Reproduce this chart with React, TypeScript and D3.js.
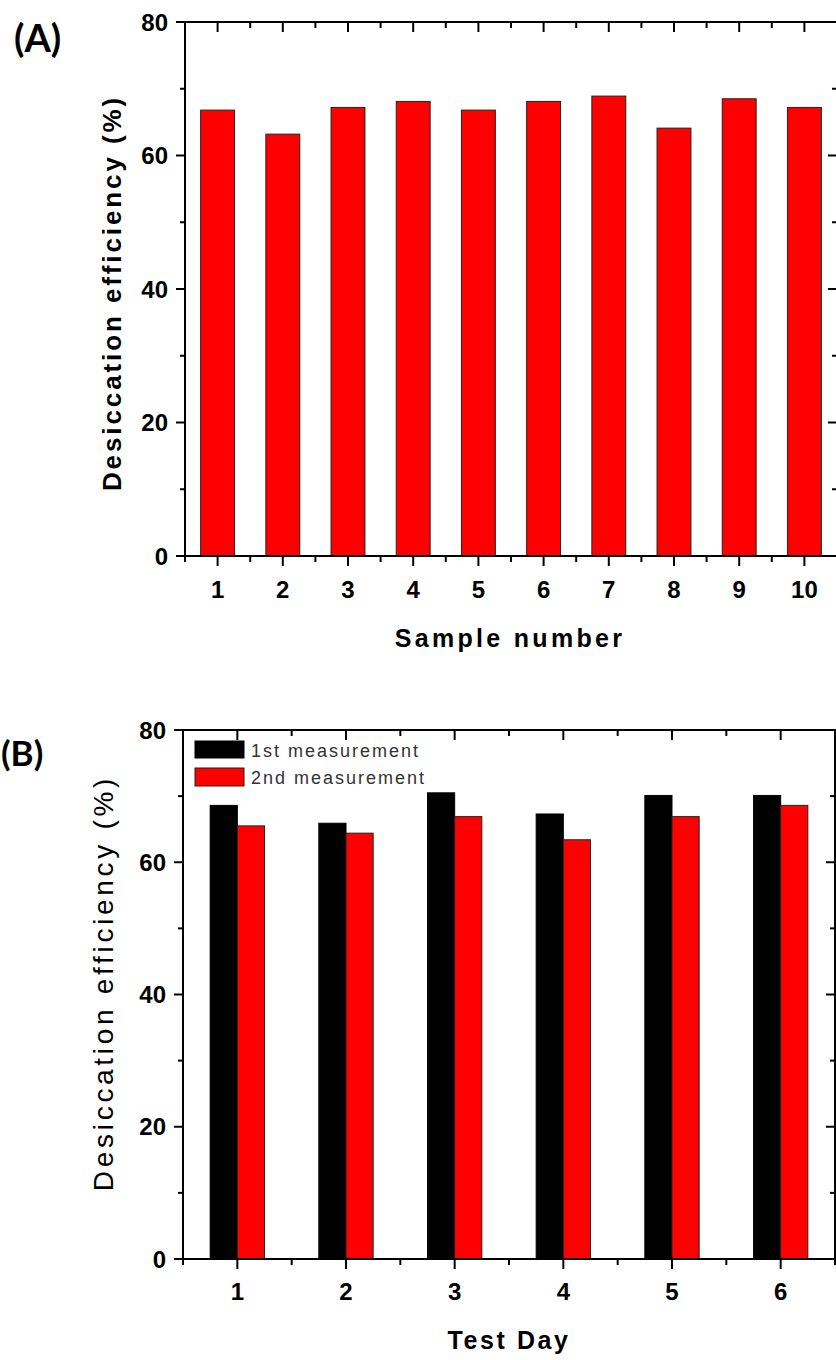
import React from "react";
import * as d3 from "d3";

// Panel A: desiccation efficiency per sample
const samples = [1, 2, 3, 4, 5, 6, 7, 8, 9, 10];
const sampleEfficiency = [66.8, 63.2, 67.2, 68.1, 66.8, 68.1, 68.9, 64.1, 68.5, 67.2];

// Panel B: two measurements per test day
const testDays = [1, 2, 3, 4, 5, 6];
const firstMeasurement = [68.6, 65.9, 70.5, 67.3, 70.1, 70.1];
const secondMeasurement = [65.5, 64.4, 66.9, 63.4, 66.9, 68.6];
const seriesNames = ["1st measurement", "2nd measurement"];

const yTicks = [0, 20, 40, 60, 80];
const yMinorTicks = [10, 30, 50, 70];

const W = 836;
const H = 1360;
const AXIS_FONT = "'Liberation Sans', Arial, sans-serif";
const LABEL_FONT = "Lato, 'Open Sans', sans-serif";
const RED = "#ff0000";

type FrameProps = {
  x: d3.ScaleLinear<number, number>;
  y: d3.ScaleLinear<number, number>;
  majorX: number[];
  minorX: number[];
};

function Frame({ x, y, majorX, minorX }: FrameProps) {
  const [x0, x1] = x.range();
  const [y0, y1] = y.range(); // y0 bottom, y1 top
  const major = 10;
  const minor = 6;
  const sw = 2;
  return (
    <g stroke="#000" strokeWidth={sw} fill="none">
      <rect x={x0} y={y1} width={x1 - x0} height={y0 - y1} />
      {majorX.map((v) => (
        <g key={"mx" + v}>
          <line x1={x(v)} x2={x(v)} y1={y0} y2={y0 + major} />
          <line x1={x(v)} x2={x(v)} y1={y1} y2={y1 + major} />
        </g>
      ))}
      {minorX.map((v) => (
        <g key={"nx" + v}>
          <line x1={x(v)} x2={x(v)} y1={y0} y2={y0 + minor} />
          <line x1={x(v)} x2={x(v)} y1={y1} y2={y1 + minor} />
        </g>
      ))}
      {yTicks.map((v) => (
        <g key={"my" + v}>
          <line x1={x0} x2={x0 - 9} y1={y(v)} y2={y(v)} />
          <line x1={x1} x2={x1 - 9} y1={y(v)} y2={y(v)} />
        </g>
      ))}
      {yMinorTicks.map((v) => (
        <g key={"ny" + v}>
          <line x1={x0} x2={x0 - 5} y1={y(v)} y2={y(v)} />
          <line x1={x1} x2={x1 - 5} y1={y(v)} y2={y(v)} />
        </g>
      ))}
    </g>
  );
}

function YLabels({ x, y }: { x: d3.ScaleLinear<number, number>; y: d3.ScaleLinear<number, number> }) {
  const x0 = x.range()[0];
  return (
    <g fontFamily={AXIS_FONT} fontWeight="bold" fontSize={24} textAnchor="end">
      {yTicks.map((v) => (
        <text key={v} x={x0 - 17} y={y(v)} dy="0.36em">
          {v}
        </text>
      ))}
    </g>
  );
}

function PanelA() {
  const x = d3.scaleLinear().domain([0.5, 10.5]).range([185, 837]);
  const y = d3.scaleLinear().domain([0, 80]).range([556, 22]);
  const step = x(2) - x(1);
  const bw = step * 0.52;
  const minorX = d3.range(0.5, 10.6, 1);
  return (
    <g>
      {samples.map((s, i) => (
        <rect
          key={s}
          x={x(s) - bw / 2}
          y={y(sampleEfficiency[i])}
          width={bw}
          height={y(0) - y(sampleEfficiency[i])}
          fill={RED}
          stroke="#222"
          strokeWidth={1}
        />
      ))}
      <Frame x={x} y={y} majorX={samples} minorX={minorX} />
      <YLabels x={x} y={y} />
      <g fontFamily={AXIS_FONT} fontWeight="bold" fontSize={24} textAnchor="middle">
        {samples.map((s) => (
          <text key={s} x={x(s)} y={598}>
            {s}
          </text>
        ))}
      </g>
      <text
        x={510}
        y={647}
        textAnchor="middle"
        fontFamily={AXIS_FONT}
        fontWeight="bold"
        fontSize={25}
        letterSpacing={3.3}
      >
        Sample number
      </text>
      <text
        transform={`translate(${121},${293}) rotate(-90)`}
        textAnchor="middle"
        fontFamily={AXIS_FONT}
        fontWeight="bold"
        fontSize={26}
        letterSpacing={2.9}
      >
        Desiccation efficiency (%)
      </text>
      <text x={14} y={52} fontFamily={LABEL_FONT} fontWeight="bold" fontSize={38}>
        (A)
      </text>
    </g>
  );
}

function PanelB() {
  const x = d3.scaleLinear().domain([0.5, 6.5]).range([183, 835]);
  const y = d3.scaleLinear().domain([0, 80]).range([1259, 730]);
  const step = x(2) - x(1);
  const bw = step * 0.25;
  const minorX = d3.range(0.5, 6.6, 1);
  return (
    <g>
      {testDays.map((d, i) => (
        <g key={d}>
          <rect
            x={x(d) - bw}
            y={y(firstMeasurement[i])}
            width={bw}
            height={y(0) - y(firstMeasurement[i])}
            fill="#000"
            stroke="#000"
            strokeWidth={1}
          />
          <rect
            x={x(d)}
            y={y(secondMeasurement[i])}
            width={bw}
            height={y(0) - y(secondMeasurement[i])}
            fill={RED}
            stroke="#222"
            strokeWidth={1}
          />
        </g>
      ))}
      <Frame x={x} y={y} majorX={testDays} minorX={minorX} />
      <YLabels x={x} y={y} />
      <g fontFamily={AXIS_FONT} fontWeight="bold" fontSize={24} textAnchor="middle">
        {testDays.map((d) => (
          <text key={d} x={x(d)} y={1300}>
            {d}
          </text>
        ))}
      </g>
      <text
        x={509}
        y={1349}
        textAnchor="middle"
        fontFamily={AXIS_FONT}
        fontWeight="bold"
        fontSize={25}
        letterSpacing={2.6}
      >
        Test Day
      </text>
      <text
        transform={`translate(${113},${983}) rotate(-90)`}
        textAnchor="middle"
        fontFamily={AXIS_FONT}
        fontSize={28}
        letterSpacing={3.7}
      >
        Desiccation efficiency (%)
      </text>
      <text x={1} y={766} fontFamily={LABEL_FONT} fontWeight="bold" fontSize={35}>
        (B)
      </text>
      {/* legend */}
      <g fontFamily={AXIS_FONT} fontSize={18} fill="#333" letterSpacing={2}>
        <rect x={195} y={741} width={49} height={17} fill="#000" stroke="#000" />
        <text x={251} y={757}>{seriesNames[0]}</text>
        <rect x={195} y={768} width={49} height={18} fill={RED} stroke="#222" />
        <text x={251} y={784}>{seriesNames[1]}</text>
      </g>
    </g>
  );
}

export default function App() {
  return (
    <svg
      width={W}
      height={H}
      viewBox={`0 0 ${W} ${H}`}
      style={{ position: "absolute", left: 0, top: 0, background: "#fff" }}
    >
      <rect width={W} height={H} fill="#fff" />
      <PanelA />
      <PanelB />
    </svg>
  );
}
